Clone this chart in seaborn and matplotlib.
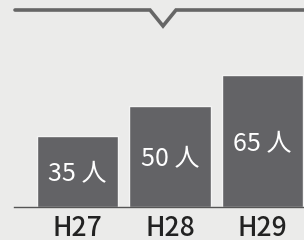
import matplotlib
matplotlib.use("Agg")
import matplotlib.pyplot as plt
from matplotlib.lines import Line2D
import seaborn as sns
import pandas as pd

years = ["H27", "H28", "H29"]
counts = [35, 50, 65]
labels = ["35 人", "50 人", "65 人"]

sns.set_style("white")
plt.rcParams['font.family'] = ['Noto Sans CJK JP', 'DejaVu Sans']

bg = "#ebebea"
bar_color = "#636366"

fig = plt.figure(figsize=(3.04, 2.40), dpi=100, facecolor=bg)
# axes spans px x 14..304, y 40..207 (top-origin)
ax = fig.add_axes([14 / 304, 33 / 240, 290 / 304, 167 / 240])
ax.set_facecolor("none")

df = pd.DataFrame({"year": years, "count": counts})
sns.barplot(data=df, x="year", y="count", color=bar_color, saturation=1,
            width=0.88, edgecolor="#f4f4f4", linewidth=1, ax=ax)

for i, (v, lab) in enumerate(zip(counts, labels)):
    ax.text(i, v / 2 - 1.5, lab, ha="center", va="center", color="white", fontsize=18)

ax.set_xlim(-0.686, 2.449)
ax.set_ylim(0, 167 / 2.03)
ax.set_xlabel("")
ax.set_ylabel("")
ax.set_yticks([])
for s in ["top", "left", "right"]:
    ax.spines[s].set_visible(False)
ax.spines["bottom"].set_color("#555555")
ax.spines["bottom"].set_linewidth(1)
ax.tick_params(axis="x", length=0, pad=6, labelsize=19, labelcolor="#222222")
for t in ax.get_xticklabels():
    t.set_fontweight("medium")

# top zigzag decoration
px = [15, 150, 163, 176, 304]
py = [10, 10, 26, 10, 10]
fig.add_artist(Line2D([x / 304 for x in px], [1 - y / 240 for y in py],
                      transform=fig.transFigure, color="#666666", linewidth=2.6,
                      solid_joinstyle="miter"))

fig.savefig("out.png", dpi=100, facecolor=bg)
